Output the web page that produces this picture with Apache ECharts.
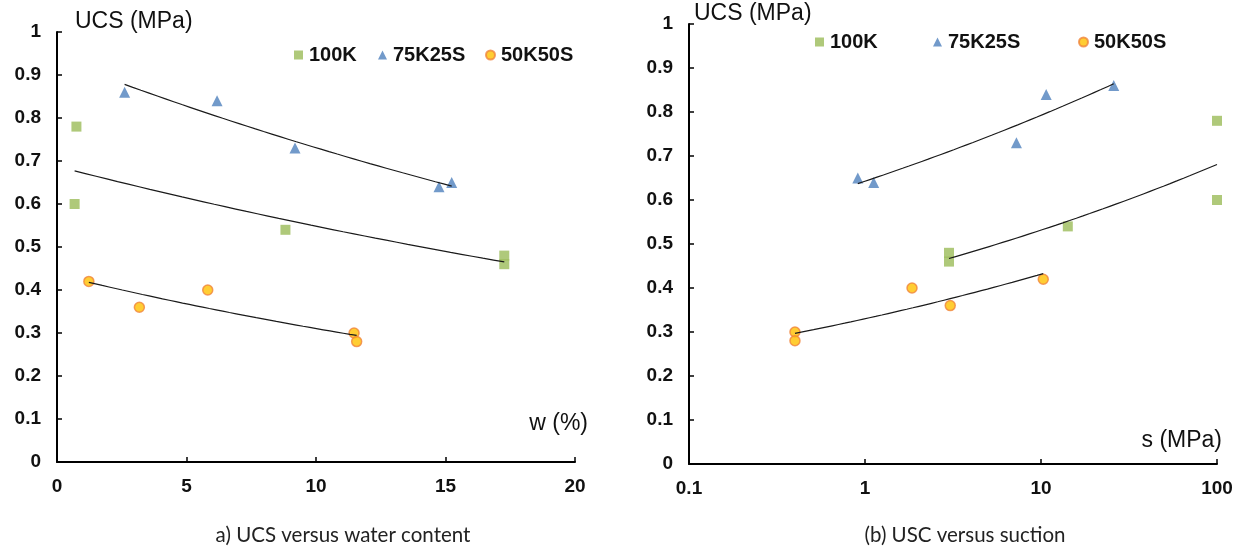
<!DOCTYPE html>
<html>
<head>
<meta charset="utf-8">
<title>UCS versus water content and suction</title>
<script src="https://cdn.jsdelivr.net/npm/echarts@6/dist/echarts.min.js"></script>
<style>
  html, body { margin: 0; padding: 0; background: #ffffff; }
  #chart { width: 1242px; height: 549px; }
</style>
</head>
<body>
<div id="chart"></div>
<script>
// Mix designs
const mixes = ['100K', '75K25S', '50K50S'];

// Panel a) water content w (%) against UCS (MPa)
const w100K    = [0.75, 0.68, 8.82, 17.27, 17.27];
const ucs100K  = [0.78, 0.60, 0.54, 0.48, 0.46];
const w75K25S  = [2.61, 6.18, 9.19, 14.75, 15.24];
const ucs75K25S = [0.86, 0.84, 0.73, 0.64, 0.65];
const w50K50S  = [1.23, 3.18, 5.82, 11.47, 11.57];
const ucs50K50S = [0.42, 0.36, 0.40, 0.30, 0.28];

// Panel b) suction s (MPa) against UCS (MPa)
const s100K    = [3.0, 3.0, 14.2, 100, 100];
const ucsS100K = [0.48, 0.46, 0.54, 0.78, 0.60];
const s75K25S  = [0.91, 1.12, 7.25, 10.7, 25.9];
const ucsS75K25S = [0.65, 0.64, 0.73, 0.84, 0.86];
const s50K50S  = [0.40, 0.40, 1.85, 3.05, 10.3];
const ucsS50K50S = [0.30, 0.28, 0.40, 0.36, 0.42];

// Axis ticks
const wTicks = [0, 5, 10, 15, 20];
const sTicks = [0.1, 1, 10, 100];
const ucsTicks = [0, 0.1, 0.2, 0.3, 0.4, 0.5, 0.6, 0.7, 0.8, 0.9, 1];

// Marker styles per mix
const markerStyle = {
  '100K':   { symbol: 'rect',     size: 10, itemStyle: { color: '#9BBB59' } },
  '75K25S': { symbol: 'triangle', size: 11, itemStyle: { color: '#4F81BD' } },
  '50K50S': { symbol: 'circle',   size: 10, itemStyle: { color: '#FFC000', borderColor: '#F0843C', borderWidth: 1.5 } }
};

function pairs(xs, ys) { return xs.map((x, i) => [x, ys[i]]); }

// Least-squares fit of ln(y) against t, where t = x (exponential) or ln(x) (power)
function lnFit(ts, ys) {
  const n = ts.length;
  const ly = ys.map(Math.log);
  const mt = ts.reduce((a, b) => a + b, 0) / n;
  const my = ly.reduce((a, b) => a + b, 0) / n;
  let sxx = 0, sxy = 0;
  for (let i = 0; i < n; i++) { sxx += (ts[i] - mt) ** 2; sxy += (ts[i] - mt) * (ly[i] - my); }
  const b = sxy / sxx;
  return { lnA: my - b * mt, b };
}

// Exponential trend y = a·e^(bx), drawn over the data range
function expTrend(xs, ys) {
  const f = lnFit(xs, ys);
  const x0 = Math.min(...xs), x1 = Math.max(...xs);
  const out = [];
  for (let k = 0; k <= 40; k++) {
    const x = x0 + (x1 - x0) * k / 40;
    out.push([x, Math.exp(f.lnA + f.b * x)]);
  }
  return out;
}

// Power trend y = a·x^b, drawn over the data range on a log axis
function powTrend(xs, ys) {
  const f = lnFit(xs.map(Math.log), ys);
  const l0 = Math.log(Math.min(...xs)), l1 = Math.log(Math.max(...xs));
  const out = [];
  for (let k = 0; k <= 40; k++) {
    const lx = l0 + (l1 - l0) * k / 40;
    out.push([Math.exp(lx), Math.exp(f.lnA + f.b * lx)]);
  }
  return out;
}

const panelA = { '100K': [w100K, ucs100K], '75K25S': [w75K25S, ucs75K25S], '50K50S': [w50K50S, ucs50K50S] };
const panelB = { '100K': [s100K, ucsS100K], '75K25S': [s75K25S, ucsS75K25S], '50K50S': [s50K50S, ucsS50K50S] };

const FONT = '"Liberation Sans", Arial, sans-serif';
const INK = '#111111';

const series = [];
mixes.forEach(m => {
  const st = markerStyle[m];
  [[panelA, 0], [panelB, 1]].forEach(([panel, gi]) => {
    series.push({
      name: m, type: 'scatter', xAxisIndex: gi, yAxisIndex: gi,
      symbol: st.symbol, symbolSize: st.size, itemStyle: Object.assign({}, st.itemStyle),
      data: pairs(panel[m][0], panel[m][1]), z: 3
    });
  });
});
mixes.forEach(m => {
  series.push({
    name: m + ' trend (w)', type: 'line', xAxisIndex: 0, yAxisIndex: 0,
    showSymbol: false, silent: true, z: 4,
    lineStyle: { color: '#1a1a1a', width: 1.2 },
    data: expTrend(panelA[m][0], panelA[m][1])
  });
  series.push({
    name: m + ' trend (s)', type: 'line', xAxisIndex: 1, yAxisIndex: 1,
    showSymbol: false, silent: true, z: 4,
    lineStyle: { color: '#1a1a1a', width: 1.2 },
    data: powTrend(panelB[m][0], panelB[m][1])
  });
});

// Fresh style objects for each axis
const axisLine = () => ({ show: true, onZero: false, lineStyle: { color: '#000000', width: 2 } });
const axisTick = () => ({ show: true, inside: true, length: 5, lineStyle: { color: '#000000', width: 1.5 } });
const tickLabel = (extra) => Object.assign({ fontFamily: FONT, fontWeight: 'bold', fontSize: 19, color: INK }, extra);

function makeYAxis(gi) {
  return {
    type: 'value', gridIndex: gi,
    min: ucsTicks[0], max: ucsTicks[ucsTicks.length - 1], interval: 0.1,
    axisLine: axisLine(), axisTick: axisTick(), splitLine: { show: false },
    axisLabel: tickLabel({ margin: 16, formatter: v => String(+v.toFixed(1)) })
  };
}

const legendItems = (positions, top) => mixes.map((m, i) => ({
  data: [m], left: positions[i], top: top, padding: 0,
  itemWidth: 9, itemHeight: 9, itemGap: 0,
  textStyle: { fontFamily: FONT, fontWeight: 'bold', fontSize: 20, color: INK, padding: [0, 0, 0, 1] }
}));

const option = {
  backgroundColor: '#ffffff',
  animation: false,
  grid: [
    { left: 57, top: 32, width: 518, height: 430 },
    { left: 689, top: 24, width: 528, height: 440 }
  ],
  xAxis: [
    {
      type: 'value', gridIndex: 0,
      min: wTicks[0], max: wTicks[wTicks.length - 1], interval: wTicks[1] - wTicks[0],
      axisLine: axisLine(), axisTick: axisTick(), splitLine: { show: false },
      axisLabel: tickLabel({ margin: 15 })
    },
    {
      type: 'log', gridIndex: 1, logBase: 10,
      min: sTicks[0], max: sTicks[sTicks.length - 1],
      axisLine: axisLine(), axisTick: axisTick(), splitLine: { show: false }, minorTick: { show: false },
      axisLabel: tickLabel({ margin: 15, formatter: v => String(+(+v).toPrecision(3)) })
    }
  ],
  yAxis: [makeYAxis(0), makeYAxis(1)],
  legend: legendItems([294, 378, 485], 45).concat(legendItems([815, 933, 1078], 32)),
  graphic: [
    { type: 'text', left: 75, top: 10, style: { text: 'UCS (MPa)', font: '23px ' + FONT, fill: INK } },
    { type: 'text', left: 694, top: 2, style: { text: 'UCS (MPa)', font: '23px ' + FONT, fill: INK } },
    { type: 'text', right: 1242 - 588, top: 412, style: { text: 'w (%)', font: '23px ' + FONT, fill: INK } },
    { type: 'text', right: 1242 - 1222, top: 429, style: { text: 's (MPa)', font: '23px ' + FONT, fill: INK } },
    { type: 'text', x: 343, y: 535, style: { text: 'a) UCS versus water content', font: '20.5px Lato, sans-serif', fill: '#222', align: 'center', verticalAlign: 'middle' } },
    { type: 'text', x: 965, y: 535, style: { text: '(b) USC versus suction', font: '20.5px Lato, sans-serif', fill: '#222', align: 'center', verticalAlign: 'middle' } }
  ],
  series
};

const chart = echarts.init(document.getElementById('chart'), null, { renderer: 'canvas' });
chart.setOption(option);
</script>
</body>
</html>
